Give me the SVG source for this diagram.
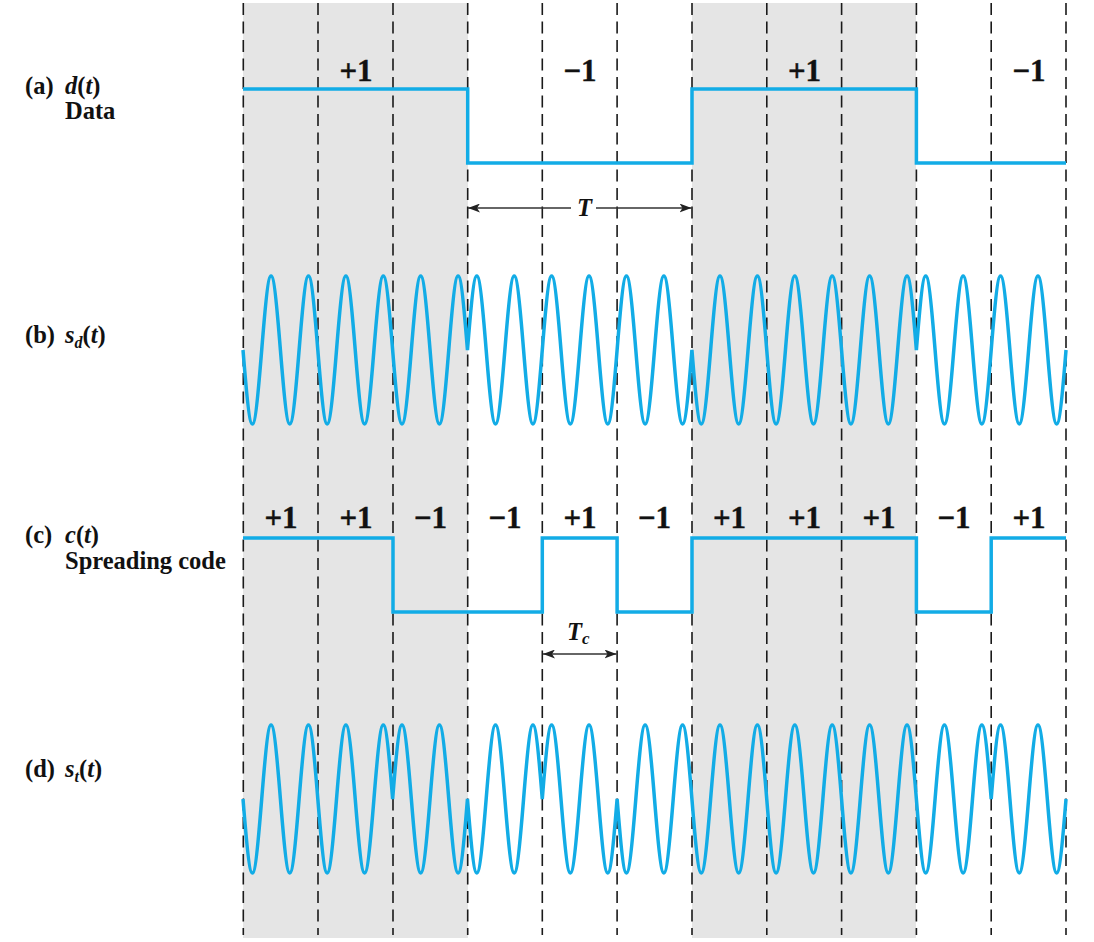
<svg xmlns="http://www.w3.org/2000/svg" width="1094" height="942" viewBox="0 0 1094 942">
<style>
.lbl{font-family:"Liberation Serif","Times New Roman",serif;font-weight:bold;font-size:24.5px;fill:#111}
.val{font-family:"Liberation Serif","Times New Roman",serif;font-weight:bold;font-size:31px;fill:#111;text-anchor:middle;stroke:#111;stroke-width:0.4}
.it{font-style:italic}
.sig{fill:none;stroke:#12ace6;stroke-width:3.5;stroke-linejoin:miter}
.grid line{stroke:#1a1a1a;stroke-width:1.6;stroke-dasharray:12 6.5}
.dim{stroke:#333;stroke-width:1.4;fill:none}
</style>
<defs>
<marker id="ah" viewBox="0 0 12 9" refX="12" refY="4.5" markerWidth="12" markerHeight="9" markerUnits="userSpaceOnUse" orient="auto-start-reverse">
<path d="M0,0 L12,4.5 L0,9 L3,4.5 z" fill="#222"/>
</marker>
</defs>
<rect width="1094" height="942" fill="#fff"/>
<g id="shading">
<rect x="243" y="3" width="225" height="935" fill="#e5e5e5"/>
<rect x="692" y="3" width="224" height="935" fill="#e5e5e5"/>
</g>
<g id="grid" class="grid">
<line x1="243.3" y1="3" x2="243.3" y2="935"/>
<line x1="318" y1="3" x2="318" y2="935"/>
<line x1="393" y1="3" x2="393" y2="935"/>
<line x1="467.7" y1="3" x2="467.7" y2="935"/>
<line x1="542.3" y1="3" x2="542.3" y2="935"/>
<line x1="617.1" y1="3" x2="617.1" y2="935"/>
<line x1="692" y1="3" x2="692" y2="935"/>
<line x1="766.8" y1="3" x2="766.8" y2="935"/>
<line x1="841.6" y1="3" x2="841.6" y2="935"/>
<line x1="916.4" y1="3" x2="916.4" y2="935"/>
<line x1="991.2" y1="3" x2="991.2" y2="935"/>
<line x1="1066" y1="3" x2="1066" y2="935"/>
</g>
<g id="labels">
<text class="lbl" x="25" y="94">(a)</text>
<text class="lbl" x="65" y="94"><tspan class="it">d</tspan>(<tspan class="it">t</tspan>)</text>
<text class="lbl" x="65" y="119">Data</text>
<text class="lbl" x="25" y="343">(b)</text>
<text class="lbl" x="65" y="343"><tspan class="it">s</tspan><tspan class="it" font-size="16" dy="5">d</tspan><tspan dy="-5">(</tspan><tspan class="it">t</tspan>)</text>
<text class="lbl" x="25" y="543">(c)</text>
<text class="lbl" x="65" y="543"><tspan class="it">c</tspan>(<tspan class="it">t</tspan>)</text>
<text class="lbl" x="65" y="569">Spreading code</text>
<text class="lbl" x="25" y="777">(d)</text>
<text class="lbl" x="65" y="777"><tspan class="it">s</tspan><tspan class="it" font-size="16" dy="5">t</tspan><tspan dy="-5">(</tspan><tspan class="it">t</tspan>)</text>
</g>
<g id="data-signal">
<path class="sig" d="M243,89 H467.7 V163 H692 V89 H916.4 V163 H1066"/>
<text class="val" x="356" y="81">+1</text>
<text class="val" x="580" y="81">−1</text>
<text class="val" x="804.5" y="81">+1</text>
<text class="val" x="1029" y="81">−1</text>
</g>
<g id="T-dimension">
<line class="dim" x1="571" y1="208" x2="468" y2="208" marker-end="url(#ah)"/>
<line class="dim" x1="596" y1="208" x2="691.5" y2="208" marker-end="url(#ah)"/>
<text class="lbl it" x="584.5" y="216" font-size="25" text-anchor="middle">T</text>
</g>
<g id="sd-signal">
<path class="sig" d="M243,350
c7.94,98.67 10.765,98.67 18.705,0 c7.94,-98.67 10.765,-98.67 18.705,0 c7.94,98.67 10.765,98.67 18.705,0 c7.94,-98.67 10.765,-98.67 18.705,0
c7.94,98.67 10.765,98.67 18.705,0 c7.94,-98.67 10.765,-98.67 18.705,0 c7.94,98.67 10.765,98.67 18.705,0 c7.94,-98.67 10.765,-98.67 18.705,0
c7.94,98.67 10.765,98.67 18.705,0 c7.94,-98.67 10.765,-98.67 18.705,0 c7.94,98.67 10.765,98.67 18.705,0 c7.94,-98.67 10.765,-98.67 18.705,0
c7.94,-98.67 10.765,-98.67 18.705,0 c7.94,98.67 10.765,98.67 18.705,0 c7.94,-98.67 10.765,-98.67 18.705,0 c7.94,98.67 10.765,98.67 18.705,0
c7.94,-98.67 10.765,-98.67 18.705,0 c7.94,98.67 10.765,98.67 18.705,0 c7.94,-98.67 10.765,-98.67 18.705,0 c7.94,98.67 10.765,98.67 18.705,0
c7.94,-98.67 10.765,-98.67 18.705,0 c7.94,98.67 10.765,98.67 18.705,0 c7.94,-98.67 10.765,-98.67 18.705,0 c7.94,98.67 10.765,98.67 18.705,0
c7.94,98.67 10.765,98.67 18.705,0 c7.94,-98.67 10.765,-98.67 18.705,0 c7.94,98.67 10.765,98.67 18.705,0 c7.94,-98.67 10.765,-98.67 18.705,0
c7.94,98.67 10.765,98.67 18.705,0 c7.94,-98.67 10.765,-98.67 18.705,0 c7.94,98.67 10.765,98.67 18.705,0 c7.94,-98.67 10.765,-98.67 18.705,0
c7.94,98.67 10.765,98.67 18.705,0 c7.94,-98.67 10.765,-98.67 18.705,0 c7.94,98.67 10.765,98.67 18.705,0 c7.94,-98.67 10.765,-98.67 18.705,0
c7.94,-98.67 10.765,-98.67 18.705,0 c7.94,98.67 10.765,98.67 18.705,0 c7.94,-98.67 10.765,-98.67 18.705,0 c7.94,98.67 10.765,98.67 18.705,0
c7.94,-98.67 10.765,-98.67 18.705,0 c7.94,98.67 10.765,98.67 18.705,0 c7.94,-98.67 10.765,-98.67 18.705,0 c7.94,98.67 10.765,98.67 18.705,0"/>
</g>
<g id="code-signal">
<path class="sig" d="M243,538 H393 V612 H542.3 V538 H617.1 V612 H692 V538 H916.4 V612 H991.2 V538 H1066"/>
<text class="val" x="281" y="528">+1</text>
<text class="val" x="356" y="528">+1</text>
<text class="val" x="430.5" y="528">−1</text>
<text class="val" x="505" y="528">−1</text>
<text class="val" x="580" y="528">+1</text>
<text class="val" x="654.5" y="528">−1</text>
<text class="val" x="729.5" y="528">+1</text>
<text class="val" x="804.5" y="528">+1</text>
<text class="val" x="879" y="528">+1</text>
<text class="val" x="954" y="528">−1</text>
<text class="val" x="1029" y="528">+1</text>
</g>
<g id="Tc-dimension">
<line class="dim" x1="543" y1="654" x2="616.5" y2="654" marker-start="url(#ah)" marker-end="url(#ah)"/>
<text class="lbl it" x="567" y="640" font-size="25">T<tspan font-size="17" dy="4">c</tspan></text>
</g>
<g id="st-signal">
<path class="sig" d="M243,799
c7.94,98.67 10.765,98.67 18.705,0 c7.94,-98.67 10.765,-98.67 18.705,0 c7.94,98.67 10.765,98.67 18.705,0 c7.94,-98.67 10.765,-98.67 18.705,0
c7.94,98.67 10.765,98.67 18.705,0 c7.94,-98.67 10.765,-98.67 18.705,0 c7.94,98.67 10.765,98.67 18.705,0 c7.94,-98.67 10.765,-98.67 18.705,0
c7.94,-98.67 10.765,-98.67 18.705,0 c7.94,98.67 10.765,98.67 18.705,0 c7.94,-98.67 10.765,-98.67 18.705,0 c7.94,98.67 10.765,98.67 18.705,0
c7.94,98.67 10.765,98.67 18.705,0 c7.94,-98.67 10.765,-98.67 18.705,0 c7.94,98.67 10.765,98.67 18.705,0 c7.94,-98.67 10.765,-98.67 18.705,0
c7.94,-98.67 10.765,-98.67 18.705,0 c7.94,98.67 10.765,98.67 18.705,0 c7.94,-98.67 10.765,-98.67 18.705,0 c7.94,98.67 10.765,98.67 18.705,0
c7.94,98.67 10.765,98.67 18.705,0 c7.94,-98.67 10.765,-98.67 18.705,0 c7.94,98.67 10.765,98.67 18.705,0 c7.94,-98.67 10.765,-98.67 18.705,0
c7.94,98.67 10.765,98.67 18.705,0 c7.94,-98.67 10.765,-98.67 18.705,0 c7.94,98.67 10.765,98.67 18.705,0 c7.94,-98.67 10.765,-98.67 18.705,0
c7.94,98.67 10.765,98.67 18.705,0 c7.94,-98.67 10.765,-98.67 18.705,0 c7.94,98.67 10.765,98.67 18.705,0 c7.94,-98.67 10.765,-98.67 18.705,0
c7.94,98.67 10.765,98.67 18.705,0 c7.94,-98.67 10.765,-98.67 18.705,0 c7.94,98.67 10.765,98.67 18.705,0 c7.94,-98.67 10.765,-98.67 18.705,0
c7.94,98.67 10.765,98.67 18.705,0 c7.94,-98.67 10.765,-98.67 18.705,0 c7.94,98.67 10.765,98.67 18.705,0 c7.94,-98.67 10.765,-98.67 18.705,0
c7.94,-98.67 10.765,-98.67 18.705,0 c7.94,98.67 10.765,98.67 18.705,0 c7.94,-98.67 10.765,-98.67 18.705,0 c7.94,98.67 10.765,98.67 18.705,0"/>
</g>
</svg>
